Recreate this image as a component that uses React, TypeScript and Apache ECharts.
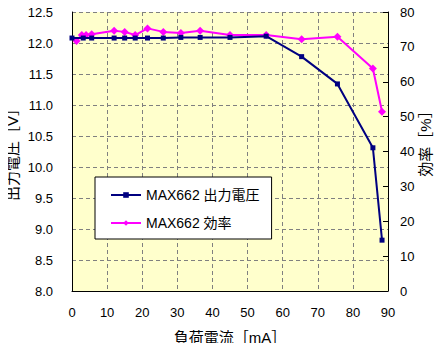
import React, { useEffect, useRef } from "react";
import * as echarts from "echarts";

const loadCurrentV = [0, 3.2, 5.6, 12, 15, 18, 21.5, 26, 31, 36.5, 45, 55.3, 65.4, 75.6, 85.7, 88.3];
const outputVoltage = [12.08, 12.08, 12.08, 12.08, 12.08, 12.08, 12.08, 12.08, 12.09, 12.09, 12.09, 12.11, 11.78, 11.34, 10.31, 8.82];
const loadCurrentE = [1.3, 2.8, 4, 5.6, 12, 15, 18, 21.5, 26, 31, 36.5, 45, 55.3, 65.4, 75.6, 85.7, 88.3];
const efficiency = [71.7, 73.4, 73.4, 73.6, 74.6, 74.3, 73.4, 75.3, 74.3, 74.0, 74.6, 73.4, 73.4, 72.2, 72.9, 63.8, 51.4];

const xTitle = "負荷電流［mA］";
const yLeftTitle = "出力電圧［V］";
const yRightTitle = "効率［%］";
const seriesNames = ["MAX662 出力電圧", "MAX662 効率"];

const FONT = "'Liberation Sans', 'Noto Sans CJK JP', sans-serif";

export default function App() {
  const ref = useRef<HTMLDivElement>(null);
  useEffect(() => {
    if (!ref.current) return;
    const chart = echarts.init(ref.current, undefined, { renderer: "svg" });
    const gridLine = { show: true, lineStyle: { color: "#808080", type: [4, 3] as any, width: 1 } };
    chart.setOption({
      animation: false,
      backgroundColor: "#ffffff",
      textStyle: { fontFamily: FONT, color: "#000" },
      grid: {
        left: 72,
        top: 12,
        width: 316,
        height: 279,
        show: true,
        backgroundColor: "#FFFFCC",
        borderWidth: 0,
      },
      legend: {
        orient: "vertical",
        left: 95,
        top: 177,
        backgroundColor: "#ffffff",
        borderColor: "#000000",
        borderWidth: 1,
        borderRadius: 0,
        padding: [10, 12, 8, 15],
        itemWidth: 30,
        itemHeight: 7,
        itemGap: 12,
        textStyle: { fontFamily: FONT, fontSize: 14, color: "#000", lineHeight: 16 },
        data: seriesNames,
      },
      xAxis: {
        type: "value",
        min: 0,
        max: 90,
        interval: 10,
        axisLine: { show: true, lineStyle: { color: "#000", width: 1 } },
        axisTick: { show: false },
        axisLabel: { fontFamily: FONT, fontSize: 13, color: "#000", margin: 15 },
        splitLine: gridLine,
      },
      yAxis: [
        {
          type: "value",
          position: "left",
          min: 8,
          max: 12.5,
          interval: 0.5,
          axisLine: { show: true, lineStyle: { color: "#000", width: 1 } },
          axisTick: { show: false },
          axisLabel: {
            fontFamily: FONT,
            fontSize: 13,
            color: "#000",
            margin: 19,
            formatter: (v: number) => v.toFixed(1),
          },
          splitLine: gridLine,
        },
        {
          type: "value",
          position: "right",
          min: 0,
          max: 80,
          interval: 10,
          axisLine: { show: true, lineStyle: { color: "#000", width: 1 } },
          axisTick: { show: true, inside: true, length: 5, lineStyle: { color: "#000" } },
          axisLabel: { fontFamily: FONT, fontSize: 13, color: "#000", margin: 12 },
          splitLine: { show: false },
        },
      ],
      graphic: [
        {
          type: "text",
          x: 12,
          y: 151,
          rotation: Math.PI / 2,
          style: { text: yLeftTitle, fontFamily: FONT, fontSize: 15, fill: "#000", textAlign: "center", textVerticalAlign: "middle" },
        },
        {
          type: "text",
          x: 425,
          y: 140,
          rotation: Math.PI / 2,
          style: { text: yRightTitle, fontFamily: FONT, fontSize: 15, fill: "#000", textAlign: "center", textVerticalAlign: "middle" },
        },
        {
          type: "text",
          x: 230,
          y: 337,
          style: { text: xTitle, fontFamily: FONT, fontSize: 15, fill: "#000", textAlign: "center", textVerticalAlign: "middle" },
        },
      ],
      series: [
        {
          name: seriesNames[0],
          type: "line",
          yAxisIndex: 0,
          data: loadCurrentV.map((x, i) => [x, outputVoltage[i]]),
          symbol: "rect",
          symbolSize: 5,
          lineStyle: { color: "#000080", width: 2 },
          itemStyle: { color: "#000080" },
          z: 3,
        },
        {
          name: seriesNames[1],
          type: "line",
          yAxisIndex: 1,
          data: loadCurrentE.map((x, i) => [x, efficiency[i]]),
          symbol: "diamond",
          symbolSize: 8,
          lineStyle: { color: "#FF00FF", width: 2 },
          itemStyle: { color: "#FF00FF" },
          z: 2,
        },
      ],
    });
    return () => chart.dispose();
  }, []);
  return <div ref={ref} style={{ width: 442, height: 351, margin: -8 }} />;
}
